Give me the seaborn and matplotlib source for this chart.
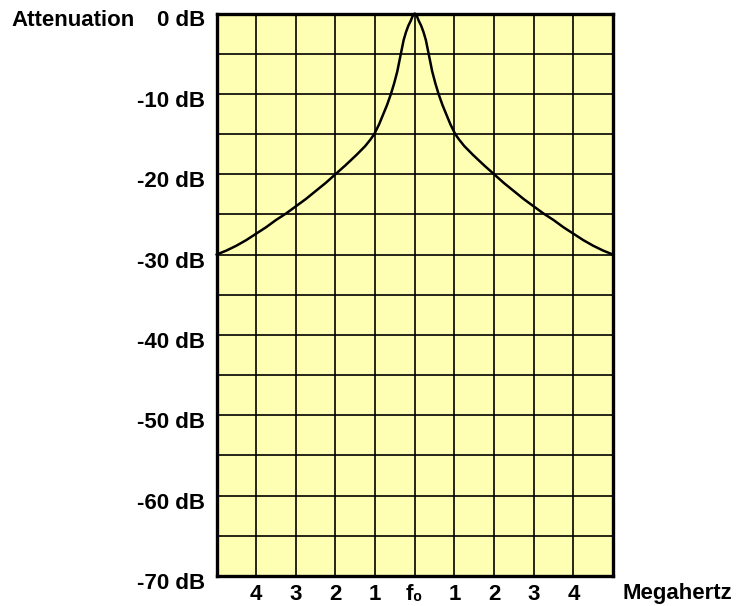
import numpy as np
import pandas as pd
import seaborn as sns
import matplotlib
matplotlib.use("Agg")
from matplotlib import pyplot as plt
from matplotlib import transforms

# filter response: offset from f0 (MHz) and attenuation (dB)
offset_mhz = [0.0, 0.03, 0.06, 0.1, 0.16, 0.22, 0.28, 0.35, 0.44, 0.52, 0.6, 0.7, 0.8,
              0.9, 1.02, 1.12, 1.25, 1.47, 1.75, 2.0, 2.25, 2.5, 2.75, 3.0, 3.25,
              3.5, 3.75, 4.0, 4.25, 4.5, 4.75, 5.0]
atten_db = [0.0, -0.15, -0.4, -0.9, -1.5, -2.3, -3.3, -5.0, -7.2, -8.7, -10.0, -11.4, -12.6,
            -13.8, -15.0, -15.7, -16.5, -17.6, -18.9, -20.0, -21.1, -22.1, -23.1, -24.0, -24.9,
            -25.7, -26.6, -27.4, -28.2, -28.9, -29.5, -30.0]

x_ticks = [-4, -3, -2, -1, 0, 1, 2, 3, 4]
x_labels = ["4", "3", "2", "1", "f\u2080", "1", "2", "3", "4"]
y_ticks = [0, -10, -20, -30, -40, -50, -60, -70]
y_labels = ["0 dB", "-10 dB", "-20 dB", "-30 dB", "-40 dB", "-50 dB", "-60 dB", "-70 dB"]

# symmetric curve around f0
freq = [-f for f in offset_mhz[::-1]] + offset_mhz[1:]
db = atten_db[::-1] + atten_db[1:]
df = pd.DataFrame({"freq": freq, "db": db})

sns.set_style("white")
plt.rcParams["font.family"] = ["Liberation Sans", "DejaVu Sans"]
plt.rcParams["font.weight"] = "bold"
plt.rcParams["text.color"] = "black"
plt.rcParams["xtick.color"] = "black"
plt.rcParams["ytick.color"] = "black"

fig = plt.figure(figsize=(7.40, 6.06), dpi=100)
ax = fig.add_axes([216.5 / 740, 1 - 576 / 606, 396.5 / 740, 562.5 / 606])
ax.set_facecolor("#FFFFB3")

sns.lineplot(data=df, x="freq", y="db", ax=ax, color="black", linewidth=1.8,
             estimator=None, sort=False, clip_on=False, zorder=3)

ax.set_xlim(-5, 5)
ax.set_ylim(-70, 0)
ax.set_xticks(x_ticks)
ax.set_xticklabels(x_labels)
ax.set_yticks(y_ticks)
ax.set_yticklabels(y_labels)
ax.set_yticks(np.arange(-65, 0, 10), minor=True)
ax.grid(True, which="both", color="black", linewidth=1.2)
ax.set_axisbelow(True)
ax.tick_params(axis="both", which="both", length=0, labelsize=16, labelcolor="black")
ax.tick_params(axis="x", pad=6)
ax.tick_params(axis="y", pad=8)
ax.set_xlabel("")
ax.set_ylabel("")
for s in ax.spines.values():
    s.set_visible(True)
    s.set_color("black")
    s.set_linewidth(2.4)

# y labels sit a bit below their grid line in the original
shift = transforms.ScaledTranslation(0, -5 / 100, fig.dpi_scale_trans)
for lab in ax.get_yticklabels():
    lab.set_transform(lab.get_transform() + shift)

ax.text(11 / 740, 1.0, "Attenuation",
        transform=transforms.blended_transform_factory(fig.transFigure, ax.transAxes) + shift,
        ha="left", va="center_baseline", fontsize=16, fontweight="bold", color="black")
ax.text(623 / 740, -0.0315, "Megahertz",
        transform=transforms.blended_transform_factory(fig.transFigure, ax.transAxes),
        ha="left", va="center", fontsize=16, fontweight="bold", color="black")

fig.savefig("out.png", dpi=100)
